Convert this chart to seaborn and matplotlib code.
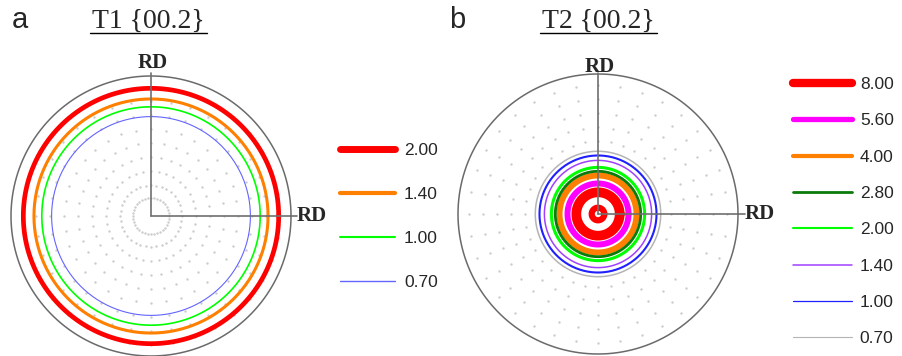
import numpy as np
import pandas as pd
import matplotlib
matplotlib.use("Agg")
import matplotlib.pyplot as plt
from matplotlib.lines import Line2D
import seaborn as sns

# contour levels (legend order) and ring radii as fraction of pole figure radius
a_levels = ["2.00", "1.40", "1.00", "0.70"]
a_radius = [0.912, 0.836, 0.780, 0.710]
a_colors = ["#ff0000", "#ff8000", "#00ff00", "#6464ff"]

b_levels = ["8.00", "5.60", "4.00", "2.80", "2.00", "1.40", "1.00", "0.70"]
b_colors = ["#ff0000", "#ff00ff", "#ff8000", "#0a7a0a", "#00ff00", "#a040ff", "#2020ff", "#b4b4b4"]
# rings drawn in panel b (8.00 appears twice)
b_ring_level = ["8.00", "8.00", "5.60", "4.00", "2.80", "2.00", "1.40", "1.00", "0.70"]
b_ring_radius = [0.045, 0.155, 0.218, 0.275, 0.305, 0.333, 0.383, 0.418, 0.448]

# line widths
a_ring_lw = [3.4, 2.2, 1.2, 0.8]
a_leg_lw = [5.0, 3.0, 1.5, 1.0]
b_ring_lw = {"8.00": [4.5, 7.0], "5.60": 4.3, "4.00": 4.3, "2.80": 2.0, "2.00": 2.2,
             "1.40": 1.1, "1.00": 1.5, "0.70": 1.1}
b_leg_lw = [6.0, 3.8, 3.0, 2.0, 1.5, 1.1, 0.9, 0.8]

# measurement grid (background dots)
grid_rings = [0.13, 0.22, 0.32, 0.42, 0.52, 0.62, 0.72, 0.82, 0.92]
grid_n = 36

W, H = 902, 356
R = 140.0
HALF = 165.0

sns.set_style("white")
plt.rcParams["font.family"] = ["Liberation Sans", "DejaVu Sans"]

fig = plt.figure(figsize=(W / 100, H / 100), dpi=100)


def px(x, y):
    return x / W, 1 - y / H


def panel(cx, cy):
    ax = fig.add_axes([(cx - HALF) / W, (H - cy - HALF) / H, 2 * HALF / W, 2 * HALF / H])
    lim = HALF / R
    ax.set_xlim(-lim, lim)
    ax.set_ylim(-lim, lim)
    ax.set_axis_off()
    return ax


def seg(ax, xs, ys, color, lw, z=3):
    sns.lineplot(x=xs, y=ys, sort=False, estimator=None, color=color,
                 linewidth=lw, ax=ax, zorder=z)


def circle(ax, r, color, lw, z=3):
    t = np.linspace(0, 2 * np.pi, 361)
    seg(ax, r * np.cos(t), r * np.sin(t), color, lw, z)


def grid_dots(ax, rmin=0.0):
    pts = []
    for r in grid_rings:
        if r < rmin:
            continue
        t = np.arange(grid_n) * 2 * np.pi / grid_n
        pts.append(pd.DataFrame({"x": r * np.cos(t), "y": r * np.sin(t)}))
    d = pd.concat(pts)
    sns.scatterplot(data=d, x="x", y="y", s=3, color="#cccccc", linewidth=0, ax=ax, zorder=1)


def frame(ax, vtop, hright, top_base, right_x):
    circle(ax, 1.0, "#6a6a6a", 1.1, z=2)
    seg(ax, [0, 0], [0, vtop], "#707070", 1.2, z=5)
    seg(ax, [0, hright], [0, 0], "#707070", 1.2, z=5)
    ax.text(0.01, top_base, "RD", ha="center", va="baseline", fontsize=15, fontweight="bold",
            family="Liberation Serif", clip_on=False)
    ax.text(right_x, 0.0, "RD", ha="left", va="center", fontsize=15, fontweight="bold",
            family="Liberation Serif", clip_on=False)


# panel a
ax_a = panel(151, 216)
grid_dots(ax_a)
for r, c, lw in zip(a_radius, a_colors, a_ring_lw):
    circle(ax_a, r, c, lw)
frame(ax_a, 1.02, 1.04, 1.057, 1.04)

# panel b
ax_b = panel(598, 214)
grid_dots(ax_b, rmin=0.47)
used = {}
for lev, r in zip(b_ring_level, b_ring_radius):
    c = b_colors[b_levels.index(lev)]
    lw = b_ring_lw[lev]
    if isinstance(lw, list):
        lw = lw[used.get(lev, 0)]
        used[lev] = used.get(lev, 0) + 1
    circle(ax_b, r, c, lw)
frame(ax_b, 1.01, 1.05, 1.014, 1.05)

# titles
fig.text(*px(12, 28), "a", fontsize=21, ha="left", va="baseline")
fig.text(*px(449, 28), "b", fontsize=21, ha="left", va="baseline")
fig.text(*px(148, 28), "T1 {00.2}", fontsize=20, ha="center", va="baseline", family="Liberation Serif")
fig.text(*px(598, 28), "T2 {00.2}", fontsize=20, ha="center", va="baseline", family="Liberation Serif")
for x0, x1 in [(90, 207), (540, 657)]:
    fig.add_artist(Line2D([x0 / W, x1 / W], [1 - 33 / H] * 2, color="black", lw=1.0))

# legends
ha = [Line2D([], [], color=c, lw=lw) for c, lw in zip(a_colors, a_leg_lw)]
fig.legend(ha, a_levels, loc="upper left", bbox_to_anchor=px(340, 143), frameon=False,
           fontsize=12.5, handlelength=3.16, handletextpad=0.52, labelspacing=1.66,
           borderpad=0, borderaxespad=0)
hb = [Line2D([], [], color=c, lw=lw) for c, lw in zip(b_colors, b_leg_lw)]
fig.legend(hb, b_levels, loc="upper left", bbox_to_anchor=px(793, 77), frameon=False,
           fontsize=12.5, handlelength=3.39, handletextpad=0.46, labelspacing=1.22,
           borderpad=0, borderaxespad=0)

fig.savefig("out.png", dpi=100, facecolor="white")
